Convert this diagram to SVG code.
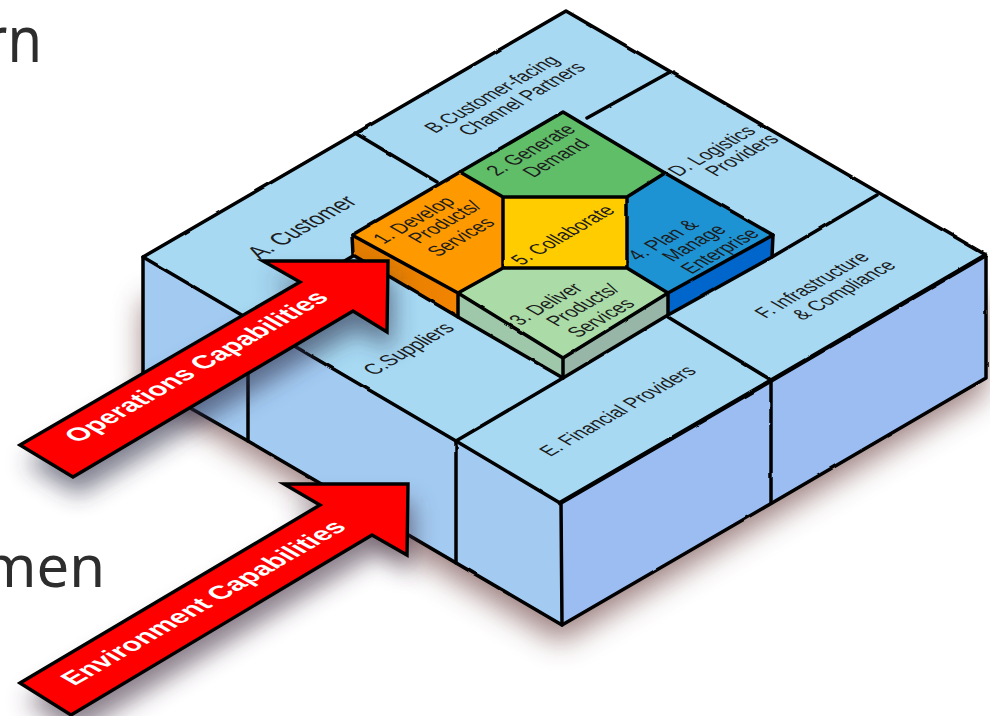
<svg xmlns="http://www.w3.org/2000/svg" width="990" height="716" viewBox="0 0 990 716">
<style>
.lbl{font-family:"Liberation Sans",Arial,sans-serif;font-size:17.5px;fill:#1c1c1c;text-anchor:middle}
.arw{font-family:"Liberation Sans",Arial,sans-serif;font-size:20px;font-weight:bold;fill:#fff;text-anchor:middle}
.bg{font-family:"Noto Sans",sans-serif;fill:#2d2d2d}
.ln{fill:none;stroke:#000;stroke-width:3.5;stroke-linejoin:round;stroke-linecap:round}
.top{fill:#a7d9f3}
.arrow{fill:#f00;stroke:#000;stroke-width:3.4;stroke-linejoin:miter}
</style>
<defs>
<filter id="b1" x="-20%" y="-30%" width="140%" height="170%"><feGaussianBlur stdDeviation="15"/></filter>
<filter id="b2" x="-20%" y="-30%" width="140%" height="170%"><feGaussianBlur stdDeviation="12"/></filter>
<filter id="wob" x="-2%" y="-2%" width="104%" height="104%"><feTurbulence type="fractalNoise" baseFrequency="0.05" numOctaves="2" seed="4"/><feDisplacementMap in="SourceGraphic" scale="2" xChannelSelector="R" yChannelSelector="G"/></filter>
<linearGradient id="og" x1="0" y1="0" x2="1" y2="0"><stop offset="0" stop-color="#e07c00"/><stop offset="1" stop-color="#f28400"/></linearGradient>
</defs>
<g id="background-text">
<text class="bg" transform="translate(42,62) scale(1,1.15)" font-size="56" text-anchor="end">rn</text>
<text class="bg" x="105" y="587" font-size="58" text-anchor="end">men</text>
</g>
<polygon id="block-shadow" points="143,300 143,392 560,642 986,392 986,300" fill="#6a3c3c" opacity=".66" filter="url(#b1)"/>
<g id="block">
<polygon points="143,257 560,503 562,625 143,381" fill="#a3cbf2"/>
<polygon points="560,503 986,255 986,378 562,625" fill="#9bbdf2"/>
<polygon class="top" points="143,257 566,11 986,255 560,503"/>
</g>
<g id="node-a"><text class="lbl" style="font-size:20.5px" transform="matrix(.866,-.5,1.05,.6,309,231)">A. Customer</text></g>
<g id="node-b"><text class="lbl" transform="matrix(.866,-.5,1.05,.6,498,97.500)">B.Customer-facing</text><text class="lbl" transform="matrix(.866,-.5,1.05,.6,528,102.500)">Channel Partners</text></g>
<g id="node-c"><text class="lbl" style="font-size:18.2px" transform="matrix(.866,-.5,1.05,.6,415,352.500)">C.Suppliers</text></g>
<g id="node-d"><text class="lbl" transform="matrix(.866,-.5,1.05,.6,718,154.500)">D. Logistics</text><text class="lbl" transform="matrix(.866,-.5,1.05,.6,748,158.500)">Providers</text></g>
<g id="node-e"><text class="lbl" transform="matrix(.866,-.5,1.05,.6,624,414.500)">E. Financial Providers</text></g>
<g id="node-f"><text class="lbl" transform="matrix(.866,-.5,1.05,.6,818,288.500)">F. Infrastructure</text><text class="lbl" transform="matrix(.866,-.5,1.05,.6,850,293.500)">&amp; Compliance</text></g>
<g id="node-1">
<polygon points="352,235 458,293 458,317 353,255" fill="url(#og)"/>
<polygon points="352,235 460,172 503,197 503,268 458,293" fill="#f90"/>
<text class="lbl" transform="matrix(.866,-.5,1.05,.6,420,223.500)">1. Develop</text><text class="lbl" transform="matrix(.866,-.5,1.05,.6,451,225.500)">Products/</text><text class="lbl" transform="matrix(.866,-.5,1.05,.6,467,240.500)">Services</text>
</g>
<g id="node-2">
<polygon points="460,172 563,112 665,173 627,197 503,197" fill="#60bd68"/>
<text class="lbl" transform="matrix(.866,-.5,1.05,.6,537,153.500)">2. Generate</text><text class="lbl" transform="matrix(.866,-.5,1.05,.6,562,161.500)">Demand</text>
</g>
<g id="node-3">
<polygon points="458,293 563,358 563,378 458,317" fill="#9fc7aa"/>
<polygon points="563,358 668,293 668,315 563,378" fill="#98b6a8"/>
<polygon points="503,268 627,268 668,293 563,358 458,293" fill="#abdca8"/>
<text class="lbl" transform="matrix(.866,-.5,1.05,.6,552,307.500)">3. Deliver</text><text class="lbl" transform="matrix(.866,-.5,1.05,.6,589,308.500)">Products/</text><text class="lbl" transform="matrix(.866,-.5,1.05,.6,607,321.500)">Services</text>
</g>
<g id="node-4">
<polygon points="773,235 772,257 668,315 668,293" fill="#06c"/>
<polygon points="665,173 773,235 668,293 627,268 627,197" fill="#1e93d3"/>
<text class="lbl" transform="matrix(.866,-.5,1.05,.6,669,243.500)">4. Plan &amp;</text><text class="lbl" transform="matrix(.866,-.5,1.05,.6,700,246.500)">Manage</text><text class="lbl" transform="matrix(.866,-.5,1.05,.6,726,254.500)">Enterprise</text>
</g>
<g id="node-5">
<rect x="503" y="197" width="124" height="71" fill="#fc0"/>
<text class="lbl" transform="matrix(.866,-.5,1.05,.6,569,238.500)">5. Collaborate</text>
</g>
<g id="connectors" class="ln" filter="url(#wob)">
<path d="M143,257 566,11 986,255 986,378 772,503 562,625 248,441 143,381 143,257Z"/>
<path d="M143,257 456,441 560,503"/>
<path d="M560,503 772,380 986,255" stroke-width="4.6"/>
<path d="M561,503 562,625M456,441 456,563M771,380 771,503M248,318 248,441"/>
<path d="M355,133 437,182M587,118 670,72M772,257 877,195M668,317 771,380M563,378 456,441M353,256 248,318"/>
<path d="M352,235 460,172 563,112 665,173 773,235 772,257 668,315 563,378 458,317 353,255Z"/>
<path d="M352,235 458,293 563,358 668,293 773,235M458,293 458,317M563,358 563,378M668,293 668,315"/>
<path d="M460,172 503,197 503,268 458,293M665,173 627,197 627,268 668,293M503,197H627M503,268H627"/>
</g>
<polygon id="arrow-shadow-ops" points="20,445 300,282 263,261 388,261 387,332 353,311 73,477" fill="#2c2c44" opacity=".6" transform="translate(5,18)" filter="url(#b2)"/>
<polygon id="arrow-shadow-env" points="20,683 320,505 284,484 408,484 407,555 372,535 71,715" fill="#3c2c3c" opacity=".6" transform="translate(5,18)" filter="url(#b2)"/>
<g id="arrow-ops">
<polygon class="arrow" points="20,445 300,282 263,261 388,261 387,332 353,311 73,477"/>
<text class="arw" transform="matrix(1.13,-.65,1.15,.66,204,371)">Operations Capabilities</text>
</g>
<g id="arrow-env">
<polygon class="arrow" points="20,683 320,505 284,484 408,484 407,555 372,535 71,715"/>
<text class="arw" transform="matrix(1.14,-.66,1.15,.66,211,607)">Environment Capabilities</text>
</g>
</svg>
